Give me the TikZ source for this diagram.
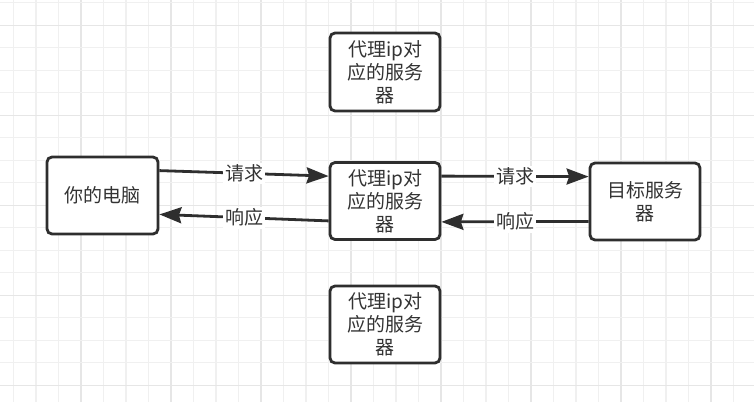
\documentclass[tikz,border=0pt]{standalone}
\usepackage{fontspec}
\setmainfont{Noto Sans CJK SC}
\usetikzlibrary{arrows.meta}
\definecolor{ink}{HTML}{2E2E2E}
\definecolor{txt}{HTML}{333333}
\definecolor{gridminor}{HTML}{F0F0F0}
\definecolor{gridmajor}{HTML}{E6E6E6}
\tikzset{
  box/.style={draw=ink, line width=2.8pt, rounded corners=5pt, fill=white,
    minimum width=110pt, minimum height=77pt, inner sep=0pt, align=center,
    text=txt, font=\fontsize{19pt}{23pt}\selectfont},
  conn/.style={draw=ink, line width=2.8pt, -{Stealth[length=22pt,width=16pt,inset=2.5pt]}},
  lbl/.style={fill=white, inner sep=2pt, text=txt, font=\fontsize{19pt}{22pt}\selectfont}
}
\begin{document}
\begin{tikzpicture}[x=1pt,y=1pt]
\useasboundingbox (0,0) rectangle (754,-402);
\fill[white] (0,0) rectangle (754,-402);
% grid
\foreach \i in {0,...,33} {
  \pgfmathsetmacro{\xx}{13.5+22.5*\i}
  \pgfmathtruncatemacro{\m}{mod(\i,4)}
  \ifnum\m=3
    \draw[gridmajor, line width=1.1pt] (\xx,0) -- (\xx,-402);
  \else
    \draw[gridminor, line width=1.1pt] (\xx,0) -- (\xx,-402);
  \fi
}
\foreach \j in {0,...,17} {
  \pgfmathsetmacro{\yy}{-(2.9+22.5*\j)}
  \pgfmathtruncatemacro{\m}{mod(\j,4)}
  \ifnum\m=1
    \draw[gridmajor, line width=1.1pt] (0,\yy) -- (754,\yy);
  \else
    \draw[gridminor, line width=1.1pt] (0,\yy) -- (754,\yy);
  \fi
}
% boxes
\node[box, minimum width=111pt] (pc) at (102.5,-195.5) {你的电脑};
\node[box] (mid) at (385,-201) {代理ip对\\应的服务\\器};
\node[box] (target) at (645,-201.5) {目标服务\\器};
\node[box, minimum height=78pt] (top) at (385,-72) {代理ip对\\应的服务\\器};
\node[box] (bot) at (385,-324.5) {代理ip对\\应的服务\\器};
% connectors
\draw[conn] ([yshift=-15pt]pc.north east) -- node[lbl]{请求} ([yshift=-15pt]mid.north west);
\draw[conn] ([yshift=20pt]mid.south west) -- node[lbl]{响应} ([yshift=21pt]pc.south east);
\draw[conn] ([yshift=-15pt]mid.north east) -- node[lbl]{请求} ([yshift=-15pt]target.north west);
\draw[conn] ([yshift=20pt]target.south west) -- node[lbl]{响应} ([yshift=19pt]mid.south east);
\end{tikzpicture}
\end{document}
